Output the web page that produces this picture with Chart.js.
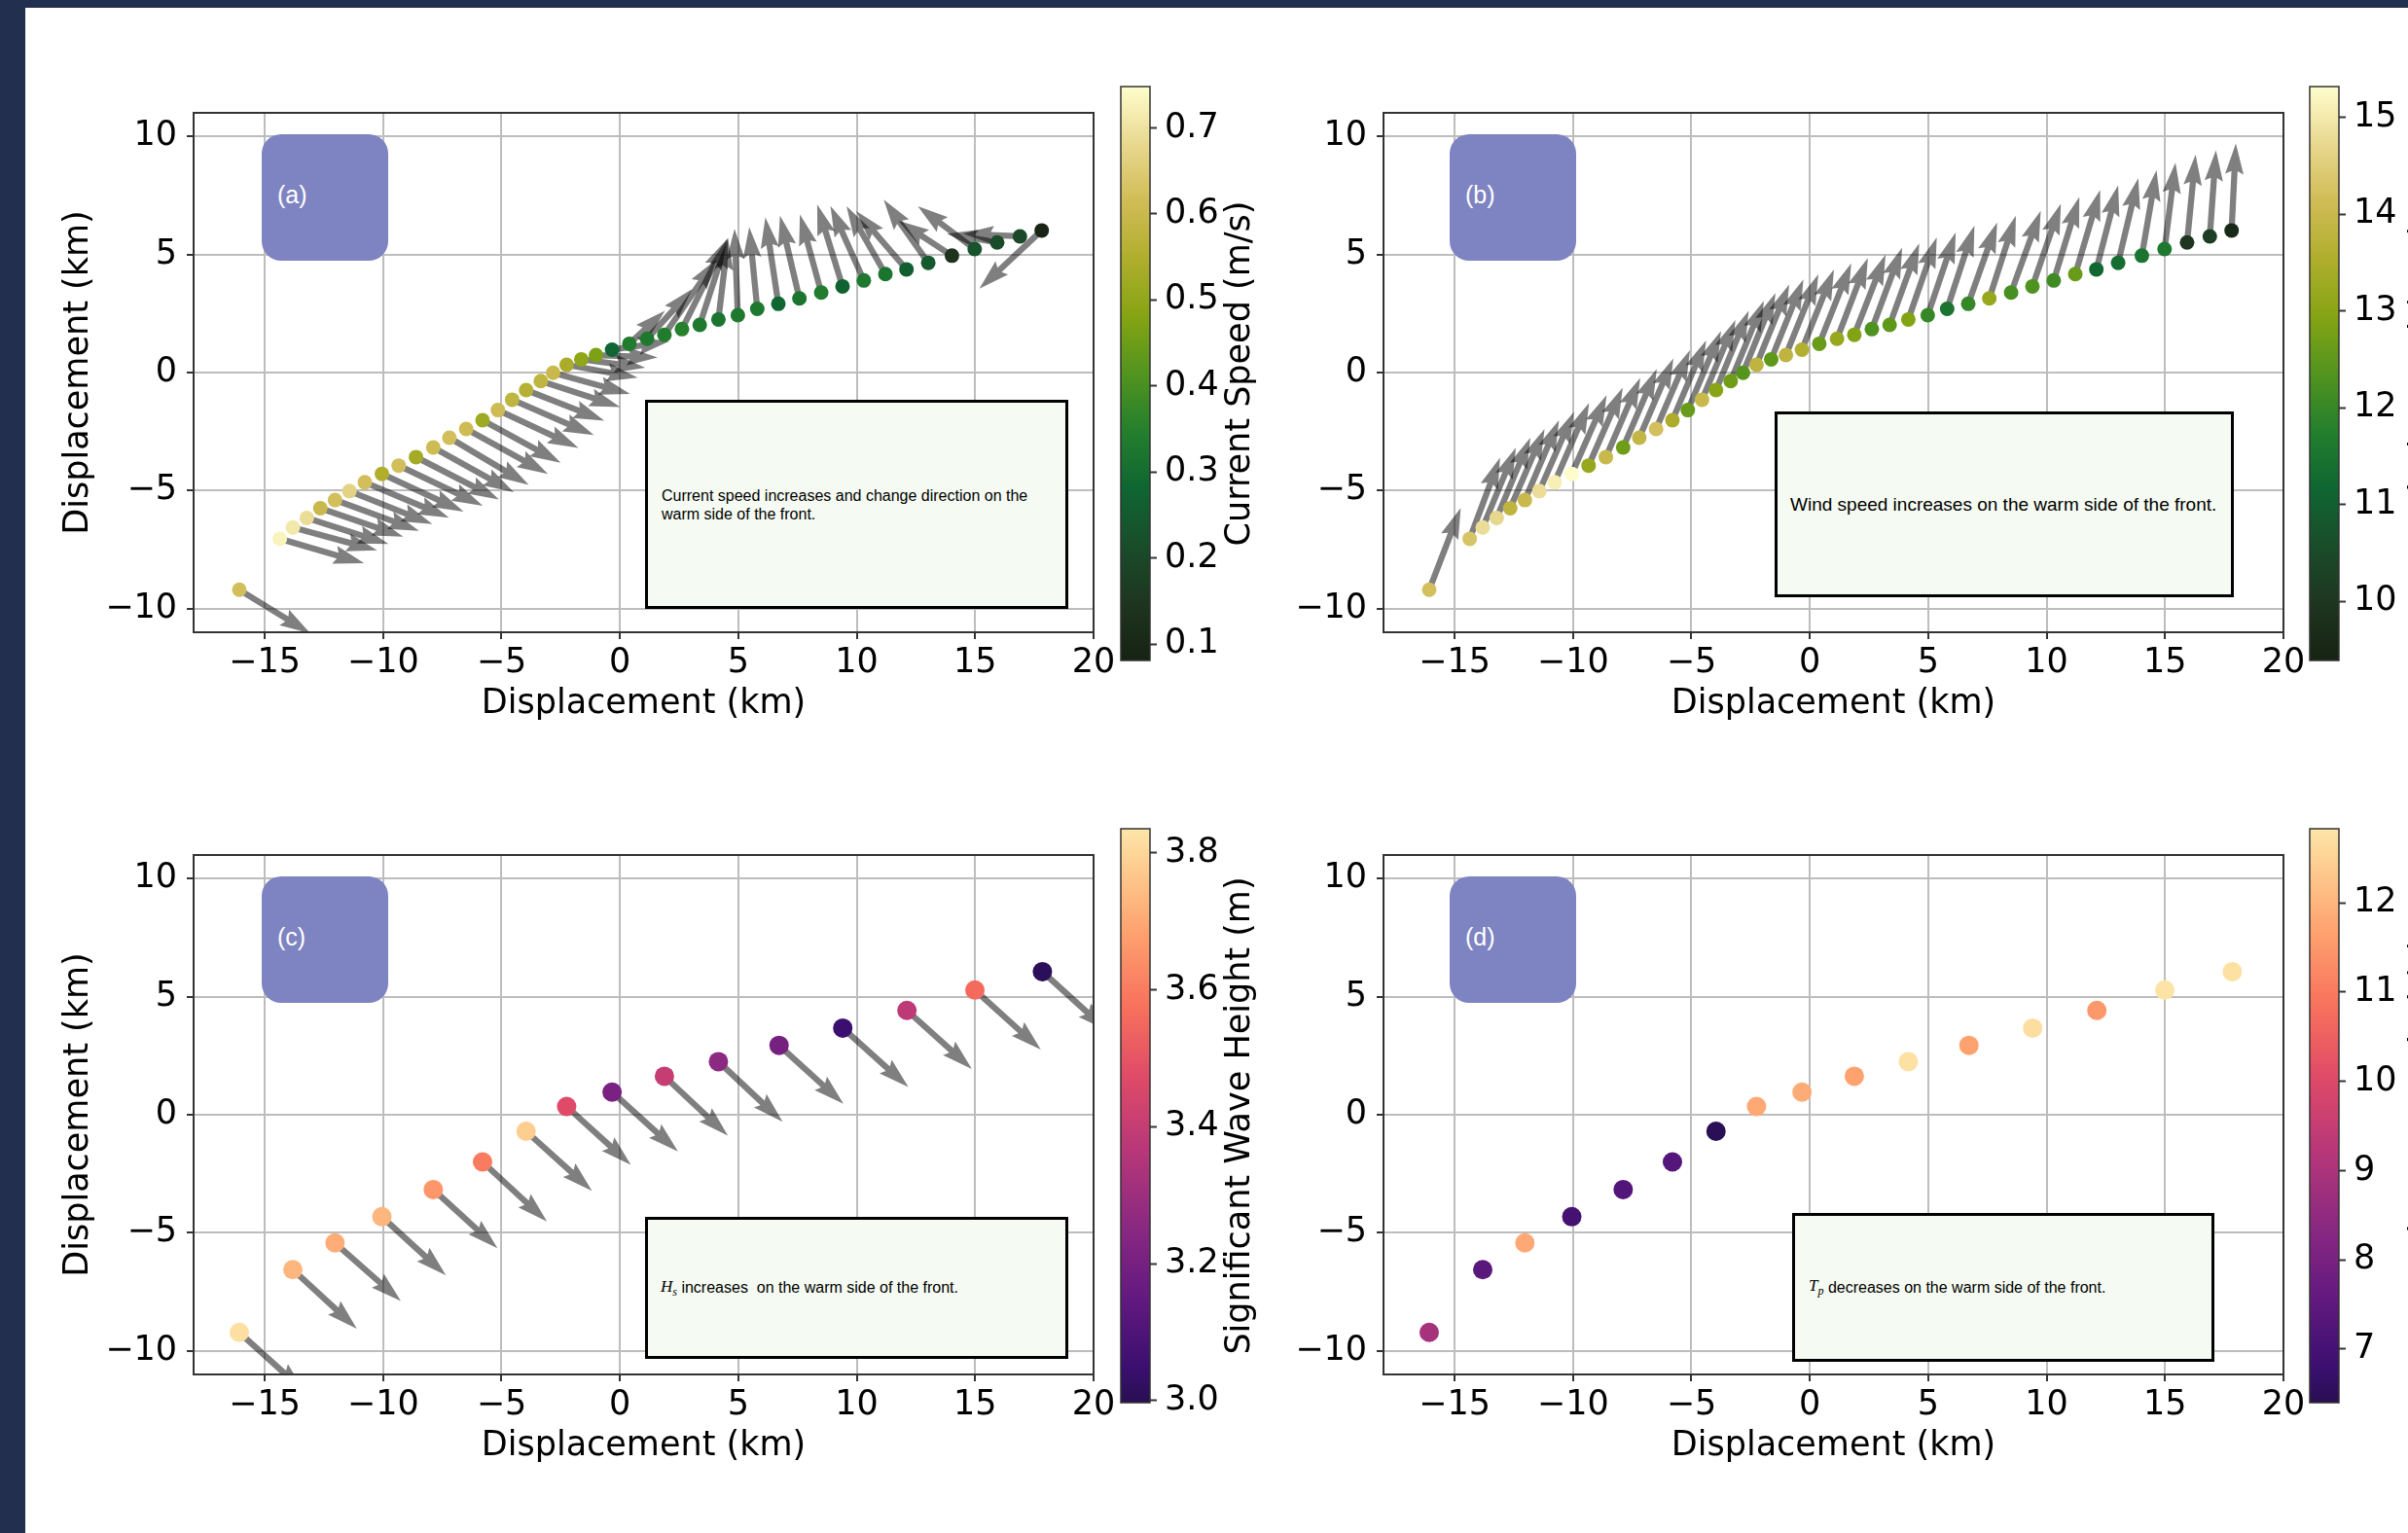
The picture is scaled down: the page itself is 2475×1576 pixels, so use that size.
<!DOCTYPE html>
<html>
<head>
<meta charset="utf-8">
<script src="https://cdn.jsdelivr.net/npm/chart.js@4.4.1/dist/chart.umd.min.js"></script>
<style>
  body { margin: 0; width: 2475px; height: 1576px; background: #fff; position: relative; overflow: hidden; }
  canvas { position: absolute; }
  .bar { position: absolute; background: #232f4e; z-index: 5; }
  .tag { position: absolute; width: 130px; height: 130px; background: #7e83c1; border-radius: 20px; z-index: 3; }
  .tag span { position: absolute; left: 16px; top: 48px; line-height: 30px; font: 25px "Liberation Sans", Arial, sans-serif; color: #fff; }
  .note { position: absolute; box-sizing: border-box; border: 3px solid #000; background: #f5fbf2; z-index: 3;
          display: flex; align-items: center; font-family: "Liberation Sans", Arial, sans-serif; color: #000; white-space: pre; }
  .m { font-family: "Liberation Serif", "DejaVu Serif", serif; font-style: italic; font-size: 17px; }
  .m sub { font-size: 12px; vertical-align: -4px; }
</style>
</head>
<body>
<div class="bar" style="left:0;top:0;width:2475px;height:8px"></div>
<div class="bar" style="left:0;top:0;width:26px;height:1576px"></div>

<canvas id="chartA" width="1170" height="780" style="left:0;top:0"></canvas>
<canvas id="chartB" width="1170" height="780" style="left:1223px;top:0"></canvas>
<canvas id="chartC" width="1170" height="780" style="left:0;top:763px"></canvas>
<canvas id="chartD" width="1170" height="780" style="left:1223px;top:763px"></canvas>
<canvas id="cbarA" width="220" height="780" style="left:1140px;top:0"></canvas>
<canvas id="cbarB" width="220" height="780" style="left:2362px;top:0"></canvas>
<canvas id="cbarC" width="220" height="780" style="left:1140px;top:763px"></canvas>
<canvas id="cbarD" width="220" height="780" style="left:2362px;top:763px"></canvas>

<div class="tag" style="left:269px;top:138px"><span>(a)</span></div>
<div class="tag" style="left:1490px;top:138px"><span>(b)</span></div>
<div class="tag" style="left:269px;top:901px"><span>(c)</span></div>
<div class="tag" style="left:1490px;top:901px"><span>(d)</span></div>

<div class="note" style="left:663px;top:411px;width:435px;height:215px;padding-left:14px;font-size:16px;line-height:19px">Current speed increases and change direction on the<br>warm side of the front.</div>
<div class="note" style="left:1824px;top:423px;width:472px;height:191px;padding-left:13px;font-size:19px">Wind speed increases on the warm side of the front.</div>
<div class="note" style="left:663px;top:1251px;width:435px;height:146px;padding-left:13px;font-size:16px"><span class="m">H<sub>s</sub></span> increases  on the warm side of the front.</div>
<div class="note" style="left:1842px;top:1247px;width:434px;height:153px;padding-left:14px;font-size:16px"><span class="m">T<sub>p</sub></span> decreases on the warm side of the front.</div>

<script>
// axes
const X_RANGE = [-18, 20];
const Y_RANGE = [-11, 11];
const X_TICKS = [-15, -10, -5, 0, 5, 10, 15, 20];
const Y_TICKS = [-10, -5, 0, 5, 10];

// drifter track (panels a, b)
const TRACK_X = [-16.07, -14.36, -13.81, -13.22, -12.65, -12.03, -11.42, -10.77, -10.05, -9.34, -8.61, -7.88, -7.20, -6.49, -5.80,
  -5.15, -4.55, -3.96, -3.34, -2.82, -2.25, -1.63, -1.01, -0.33, 0.40, 1.15, 1.88, 2.62, 3.37, 4.16, 4.98, 5.80, 6.69, 7.58, 8.50,
  9.40, 10.30, 11.21, 12.10, 13.02, 14.02, 14.98, 15.93, 16.89, 17.81];
const TRACK_Y = [-9.20, -7.04, -6.56, -6.16, -5.75, -5.40, -5.02, -4.65, -4.29, -3.94, -3.58, -3.17, -2.76, -2.39, -2.02,
  -1.59, -1.15, -0.74, -0.36, -0.01, 0.33, 0.56, 0.74, 0.97, 1.22, 1.43, 1.60, 1.84, 2.02, 2.25, 2.43, 2.70, 2.91, 3.14, 3.39,
  3.65, 3.90, 4.17, 4.37, 4.65, 4.95, 5.23, 5.51, 5.77, 6.02];

// (a) current
const CURRENT_SPEED = [0.62, 0.73, 0.71, 0.69, 0.60, 0.62, 0.67, 0.62, 0.55, 0.62, 0.53, 0.61, 0.62, 0.61, 0.52,
  0.61, 0.58, 0.56, 0.58, 0.60, 0.54, 0.50, 0.47, 0.28, 0.34, 0.33, 0.34, 0.35, 0.33, 0.32, 0.33, 0.33, 0.28, 0.32, 0.34,
  0.27, 0.33, 0.32, 0.26, 0.25, 0.14, 0.23, 0.21, 0.20, 0.09];
const CURRENT_U = [3.00, 3.56, 3.56, 3.45, 3.50, 3.55, 3.50, 3.55, 3.45, 3.55, 3.50, 3.40, 3.35, 3.45, 3.30,
  3.40, 3.45, 3.30, 3.35, 3.25, 3.00, 2.70, 2.60, 2.40, 1.50, 1.90, 2.20, 1.90, 1.20, 0.40, -0.14, -0.34, -0.55, -0.82, -0.90,
  -1.07, -1.41, -1.64, -2.12, -1.88, -2.26, -2.40, -2.12, -2.40, -2.63];
const CURRENT_V = [-1.85, -1.04, -0.97, -1.10, -1.20, -1.30, -1.40, -1.50, -1.60, -1.70, -1.80, -1.90, -2.00, -1.90, -1.80,
  -1.60, -1.50, -1.30, -1.10, -0.90, -0.55, -0.35, -0.10, 0.35, 1.40, 2.10, 3.20, 3.80, 3.70, 3.40, 3.66, 3.46, 3.66, 3.50, 3.30,
  3.47, 3.16, 2.88, 2.47, 2.67, 1.48, 1.82, 0.37, 0.11, -2.47];

// (b) wind
const WIND_SPEED = [14.2, 14.3, 14.8, 14.7, 13.8, 14.0, 14.8, 15.1, 15.3, 13.2, 14.0, 12.7, 13.9, 14.2, 13.5,
  12.6, 14.0, 13.0, 12.7, 12.4, 13.8, 12.5, 13.8, 13.6, 12.6, 13.2, 12.9, 12.3, 12.5, 12.9, 12.0, 11.5, 12.0, 13.2, 12.2,
  12.3, 12.1, 12.6, 11.2, 11.3, 11.5, 11.6, 10.0, 10.2, 9.6];
const WIND_U = [1.33, 1.28, 1.40, 1.42, 1.45, 1.44, 1.46, 1.45, 1.47, 1.44, 1.45, 1.42, 1.44, 1.43, 1.42,
  1.40, 1.41, 1.38, 1.40, 1.37, 1.38, 1.36, 1.37, 1.35, 1.35, 1.30, 1.32, 1.28, 1.25, 1.20, 1.18, 1.15, 1.22, 1.12, 1.25,
  1.20, 1.08, 1.05, 0.92, 0.85, 0.62, 0.46, 0.36, 0.26, 0.18];
const WIND_V = [3.46, 3.43, 3.38, 3.40, 3.36, 3.38, 3.35, 3.36, 3.33, 3.30, 3.35, 3.32, 3.36, 3.34, 3.38,
  3.35, 3.37, 3.36, 3.40, 3.38, 3.40, 3.38, 3.42, 3.40, 3.40, 3.42, 3.40, 3.45, 3.45, 3.48, 3.50, 3.52, 3.45, 3.50, 3.46,
  3.50, 3.54, 3.56, 3.56, 3.58, 3.62, 3.66, 3.72, 3.64, 3.68];

// (c, d) wave stations
const WAVE_X = [-16.07, -13.81, -12.03, -10.05, -7.88, -5.80, -3.96, -2.25, -0.33, 1.88, 4.16, 6.72, 9.41, 12.12, 14.99, 17.84];
const WAVE_Y = [-9.22, -6.56, -5.43, -4.32, -3.17, -2.00, -0.70, 0.35, 0.96, 1.63, 2.25, 2.94, 3.67, 4.42, 5.28, 6.06];
const HS = [3.82, 3.73, 3.71, 3.73, 3.66, 3.60, 3.78, 3.47, 3.21, 3.40, 3.26, 3.20, 3.05, 3.38, 3.56, 3.01];
const WAVE_U = [2.75, 2.70, 2.78, 2.70, 2.71, 2.72, 2.78, 2.71, 2.78, 2.68, 2.71, 2.72, 2.77, 2.74, 2.78, 2.75];
const WAVE_V = [-2.50, -2.50, -2.46, -2.48, -2.48, -2.52, -2.52, -2.47, -2.52, -2.52, -2.55, -2.48, -2.50, -2.48, -2.52, -2.50];
const TP = [8.9, 7.4, 11.8, 7.0, 7.25, 7.3, 6.45, 11.8, 11.85, 11.7, 12.75, 11.7, 12.7, 11.5, 12.8, 12.75];

// colour bar limits and ticks
const CB_CURRENT = [0.081, 0.748];
const CB_CURRENT_TICKS = [0.1, 0.2, 0.3, 0.4, 0.5, 0.6, 0.7];
const CB_WIND = [9.39, 15.32];
const CB_WIND_TICKS = [10, 11, 12, 13, 14, 15];
const CB_HS = [2.997, 3.835];
const CB_HS_TICKS = [3.0, 3.2, 3.4, 3.6, 3.8];
const CB_TP = [6.40, 12.83];
const CB_TP_TICKS = [7, 8, 9, 10, 11, 12];

// colour maps
const SPEED_STOPS = [[0.0, [23, 35, 18]], [0.1, [30, 53, 32]], [0.2, [25, 77, 42]], [0.3, [15, 102, 50]],
  [0.4, [36, 127, 45]], [0.5, [82, 148, 30]], [0.6, [133, 164, 19]], [0.7, [176, 174, 45]],
  [0.8, [208, 188, 86]], [0.9, [232, 216, 143]], [1.0, [255, 253, 205]]];
const MAGMA_STOPS = [[0.0, [0, 0, 4]], [0.1, [20, 14, 54]], [0.2, [59, 15, 112]], [0.3, [100, 26, 128]],
  [0.4, [140, 41, 129]], [0.5, [183, 55, 121]], [0.6, [222, 73, 104]], [0.7, [247, 112, 92]],
  [0.8, [254, 159, 109]], [0.9, [254, 206, 145]], [1.0, [252, 253, 191]]];

function fromStops(stops, t) {
  t = Math.max(0, Math.min(1, t));
  for (let i = 1; i < stops.length; i++) {
    if (t <= stops[i][0]) {
      const t0 = stops[i - 1][0], c0 = stops[i - 1][1];
      const t1 = stops[i][0], c1 = stops[i][1];
      const f = (t - t0) / (t1 - t0);
      return "rgb(" + c0.map((c, k) => Math.round(c + (c1[k] - c) * f)).join(",") + ")";
    }
  }
  return "rgb(" + stops[stops.length - 1][1].join(",") + ")";
}
function speedMap(t) { return fromStops(SPEED_STOPS, t); }
function magmaMap(t) { return fromStops(MAGMA_STOPS, 0.15 + 0.8 * t); }

const FONT = "DejaVu Sans";
const minus = v => String(v).replace("-", "\u2212");

// quiver arrows, tail on the point, matplotlib-like head
function quiver(xs, ys, us, vs) {
  return {
    id: "quiver",
    beforeDatasetsDraw(chart) {
      const ctx = chart.ctx, a = chart.chartArea;
      const sx = chart.scales.x, sy = chart.scales.y;
      const w = 6.3;
      ctx.save();
      ctx.beginPath();
      ctx.rect(a.left, a.top, a.right - a.left, a.bottom - a.top);
      ctx.clip();
      ctx.fillStyle = "rgba(0,0,0,0.5)";
      for (let i = 0; i < xs.length; i++) {
        const x0 = sx.getPixelForValue(xs[i]), y0 = sy.getPixelForValue(ys[i]);
        const x1 = sx.getPixelForValue(xs[i] + us[i]), y1 = sy.getPixelForValue(ys[i] + vs[i]);
        const len = Math.hypot(x1 - x0, y1 - y0);
        const k = Math.min(1, len / (5 * w));
        const hl = 5 * w * k, hal = 4.5 * w * k, hw = 1.5 * w * k;
        ctx.save();
        ctx.translate(x0, y0);
        ctx.rotate(Math.atan2(y1 - y0, x1 - x0));
        ctx.beginPath();
        ctx.moveTo(0, -w / 2);
        ctx.lineTo(len - hal, -w / 2);
        ctx.lineTo(len - hl, -hw);
        ctx.lineTo(len, 0);
        ctx.lineTo(len - hl, hw);
        ctx.lineTo(len - hal, w / 2);
        ctx.lineTo(0, w / 2);
        ctx.closePath();
        ctx.fill();
        ctx.restore();
      }
      ctx.restore();
    }
  };
}

const spine = {
  id: "spine",
  afterDatasetsDraw(chart) {
    const ctx = chart.ctx, a = chart.chartArea;
    ctx.save();
    ctx.strokeStyle = "#333";
    ctx.lineWidth = 2;
    ctx.strokeRect(a.left, a.top, a.right - a.left, a.bottom - a.top);
    ctx.restore();
  }
};

function creerPanel(id, xs, ys, vals, cmap, range, radius, arrows, yTitle) {
  const pts = xs.map((x, i) => ({x: x, y: ys[i]}));
  const colors = vals.map(v => cmap((v - range[0]) / (range[1] - range[0])));
  let plugins = [spine];
  if (arrows) plugins.push(arrows);
  return new Chart(document.getElementById(id), {
    type: "scatter",
    data: {
      datasets: [{
        data: pts,
        pointBackgroundColor: colors,
        pointBorderWidth: 0,
        pointRadius: radius,
        pointHoverRadius: radius
      }]
    },
    options: {
      responsive: false,
      animation: false,
      events: [],
      layout: {padding: {top: 116, right: 46, left: 0, bottom: 0}},
      plugins: {legend: {display: false}, tooltip: {enabled: false}},
      scales: {
        x: {
          type: "linear", min: X_RANGE[0], max: X_RANGE[1],
          afterFit: s => { s.height = 130; s.paddingLeft = 0; s.paddingRight = 0; },
          afterBuildTicks: s => { s.ticks = X_TICKS.map(v => ({value: v})); },
          ticks: {font: {family: FONT, size: 35}, color: "#000", padding: 4, maxRotation: 0, autoSkip: false, callback: minus},
          grid: {color: "#bdbdbd", lineWidth: 2, tickColor: "#333", tickWidth: 2, tickLength: 7},
          border: {display: false},
          title: {display: true, text: "Displacement (km)", color: "#000", font: {family: FONT, size: 35}, padding: {bottom: 35}}
        },
        y: {
          type: "linear", min: Y_RANGE[0], max: Y_RANGE[1],
          afterFit: s => { s.width = 199; s.paddingTop = 0; s.paddingBottom = 0; },
          afterBuildTicks: s => { s.ticks = Y_TICKS.map(v => ({value: v})); },
          ticks: {font: {family: FONT, size: 35}, color: "#000", padding: 10, autoSkip: false, callback: minus},
          grid: {color: "#bdbdbd", lineWidth: 2, tickColor: "#333", tickWidth: 2, tickLength: 7},
          border: {display: false},
          title: {display: yTitle, text: "Displacement (km)", color: "#000", font: {family: FONT, size: 35}, padding: {top: 60}}
        }
      }
    },
    plugins: plugins
  });
}

function colorbar(cmap, label, offset) {
  return {
    id: "colorbar",
    beforeDatasetsDraw(chart) {
      const ctx = chart.ctx, a = chart.chartArea;
      const g = ctx.createLinearGradient(0, a.bottom, 0, a.top);
      for (let i = 0; i <= 50; i++) g.addColorStop(i / 50, cmap(i / 50));
      ctx.save();
      ctx.fillStyle = g;
      ctx.fillRect(a.left, a.top, a.right - a.left, a.bottom - a.top);
      ctx.strokeStyle = "#333";
      ctx.lineWidth = 1.5;
      ctx.strokeRect(a.left, a.top, a.right - a.left, a.bottom - a.top);
      ctx.translate(a.right + offset, (a.top + a.bottom) / 2);
      ctx.rotate(-Math.PI / 2);
      ctx.font = "35px '" + FONT + "'";
      ctx.fillStyle = "#000";
      ctx.textAlign = "center";
      ctx.textBaseline = "middle";
      ctx.fillText(label, 0, 0);
      ctx.restore();
    }
  };
}

function creerColorbar(id, range, ticks, digits, cmap, label, offset) {
  return new Chart(document.getElementById(id), {
    type: "scatter",
    data: {datasets: []},
    options: {
      responsive: false,
      animation: false,
      events: [],
      layout: {padding: {left: 12, top: 89, bottom: 101, right: 0}},
      plugins: {legend: {display: false}, tooltip: {enabled: false}},
      scales: {
        x: {type: "linear", display: false, min: 0, max: 1},
        y: {
          type: "linear", position: "right", min: range[0], max: range[1],
          afterFit: s => { s.width = 178; s.paddingTop = 0; s.paddingBottom = 0; },
          afterBuildTicks: s => { s.ticks = ticks.map(v => ({value: v})); },
          ticks: {font: {family: FONT, size: 35}, color: "#000", padding: 8, autoSkip: false, callback: v => v.toFixed(digits)},
          grid: {drawOnChartArea: false, tickColor: "#333", tickWidth: 2, tickLength: 7},
          border: {display: false}
        }
      }
    },
    plugins: [colorbar(cmap, label, offset)]
  });
}

creerPanel("chartA", TRACK_X, TRACK_Y, CURRENT_SPEED, speedMap, CB_CURRENT, 7.5,
  quiver(TRACK_X, TRACK_Y, CURRENT_U, CURRENT_V), true);
creerPanel("chartB", TRACK_X, TRACK_Y, WIND_SPEED, speedMap, CB_WIND, 7.5,
  quiver(TRACK_X, TRACK_Y, WIND_U, WIND_V), false);
creerPanel("chartC", WAVE_X, WAVE_Y, HS, magmaMap, CB_HS, 10,
  quiver(WAVE_X, WAVE_Y, WAVE_U, WAVE_V), true);
creerPanel("chartD", WAVE_X, WAVE_Y, TP, magmaMap, CB_TP, 10, null, false);

creerColorbar("cbarA", CB_CURRENT, CB_CURRENT_TICKS, 1, speedMap, "Current Speed (m/s)", 93);
creerColorbar("cbarB", CB_WIND, CB_WIND_TICKS, 0, speedMap, "Wind Speed (m/s)", 88);
creerColorbar("cbarC", CB_HS, CB_HS_TICKS, 1, magmaMap, "Significant Wave Height (m)", 93);
creerColorbar("cbarD", CB_TP, CB_TP_TICKS, 0, magmaMap, "Peak Wave Period (s)", 88);
</script>
</body>
</html>
